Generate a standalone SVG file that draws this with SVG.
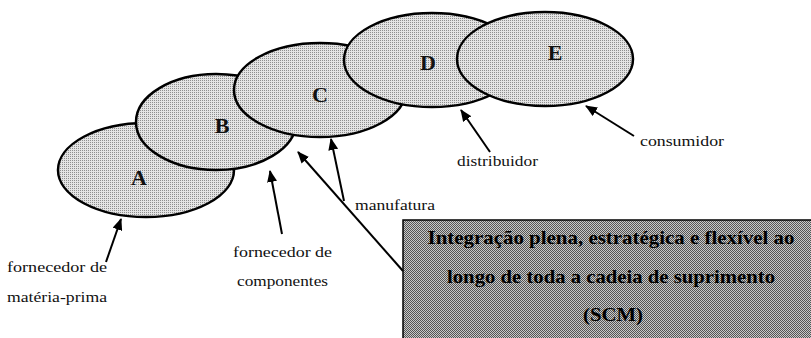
<svg xmlns="http://www.w3.org/2000/svg" width="811" height="338" viewBox="0 0 811 338">
  <defs>
    <!-- light stipple used inside the ellipses -->
    <pattern id="stipple" width="2" height="2" patternUnits="userSpaceOnUse">
      <rect width="2" height="2" fill="#e4e4e4"/>
      <rect width="1" height="1" fill="#8e8e8e"/>
    </pattern>
    <!-- darker checker used for the SCM box -->
    <pattern id="checker" width="2" height="2" patternUnits="userSpaceOnUse">
      <rect width="2" height="2" fill="#c8c8c8"/>
      <rect width="1" height="1" fill="#555555"/>
      <rect x="1" y="1" width="1" height="1" fill="#555555"/>
    </pattern>
    <marker id="head" markerUnits="userSpaceOnUse" markerWidth="12" markerHeight="10" refX="11" refY="5" orient="auto">
      <path d="M0,0 L12,5 L0,10 Z" fill="#000"/>
    </marker>
  </defs>
  <style>
    .stage { fill: url(#stipple); stroke: #000; stroke-width: 2.5; }
    .letter { font-weight: bold; font-size: 22px; fill: #111; text-anchor: middle; }
    .label { font-size: 14px; fill: #111; }
    .arrow { stroke: #000; stroke-width: 2; fill: none; marker-end: url(#head); }
    .scm-text { font-size: 19px; font-weight: bold; fill: #000; text-anchor: middle; }
  </style>

  <g id="node-A">
    <ellipse class="stage" cx="146" cy="170" rx="88" ry="47"/>
    <text class="letter" font-family="Liberation Serif, DejaVu Serif, serif" x="139" y="185">A</text>
  </g>
  <g id="node-B">
    <ellipse class="stage" cx="216" cy="122" rx="80" ry="48"/>
    <text class="letter" font-family="Liberation Serif, DejaVu Serif, serif" x="222" y="133">B</text>
  </g>
  <g id="node-C">
    <ellipse class="stage" cx="320" cy="90" rx="86" ry="47"/>
    <text class="letter" font-family="Liberation Serif, DejaVu Serif, serif" x="320" y="102">C</text>
  </g>
  <g id="node-D">
    <ellipse class="stage" cx="432" cy="60" rx="88" ry="47"/>
    <text class="letter" font-family="Liberation Serif, DejaVu Serif, serif" x="428" y="70">D</text>
  </g>
  <g id="node-E">
    <ellipse class="stage" cx="545" cy="59" rx="88" ry="47"/>
    <text class="letter" font-family="Liberation Serif, DejaVu Serif, serif" x="555" y="60">E</text>
  </g>

  <g id="scm-box" font-family="Liberation Serif, DejaVu Serif, serif">
    <rect x="403" y="220" width="410" height="120" fill="url(#checker)" stroke="#000" stroke-width="1.5"/>
    <text class="scm-text" x="611" y="244" textLength="367" lengthAdjust="spacingAndGlyphs">Integração plena, estratégica e flexível ao</text>
    <text class="scm-text" x="611" y="283" textLength="328" lengthAdjust="spacingAndGlyphs">longo de toda a cadeia de suprimento</text>
    <text class="scm-text" x="613" y="321" textLength="60" lengthAdjust="spacingAndGlyphs">(SCM)</text>
  </g>

  <g id="labels" font-family="Liberation Serif, DejaVu Serif, serif">
    <text class="label" x="7" y="272" textLength="100" lengthAdjust="spacingAndGlyphs">fornecedor de</text>
    <text class="label" x="7" y="302" textLength="100" lengthAdjust="spacingAndGlyphs">matéria-prima</text>
    <text class="label" x="233" y="257" textLength="99" lengthAdjust="spacingAndGlyphs">fornecedor de</text>
    <text class="label" x="237" y="286" textLength="91" lengthAdjust="spacingAndGlyphs">componentes</text>
    <text class="label" x="355" y="210" textLength="80" lengthAdjust="spacingAndGlyphs">manufatura</text>
    <text class="label" x="457" y="166" textLength="81" lengthAdjust="spacingAndGlyphs">distribuidor</text>
    <text class="label" x="640" y="146" textLength="84" lengthAdjust="spacingAndGlyphs">consumidor</text>
  </g>

  <g id="connectors">
    <line class="arrow" x1="106" y1="262" x2="121" y2="219"/>
    <line class="arrow" x1="282" y1="234" x2="270" y2="171"/>
    <line class="arrow" x1="403" y1="271" x2="298" y2="152" stroke-width="2.6"/>
    <line class="arrow" x1="344" y1="201" x2="331" y2="139"/>
    <line class="arrow" x1="490" y1="152" x2="461" y2="110"/>
    <line class="arrow" x1="634" y1="136" x2="586" y2="106"/>
  </g>
</svg>
